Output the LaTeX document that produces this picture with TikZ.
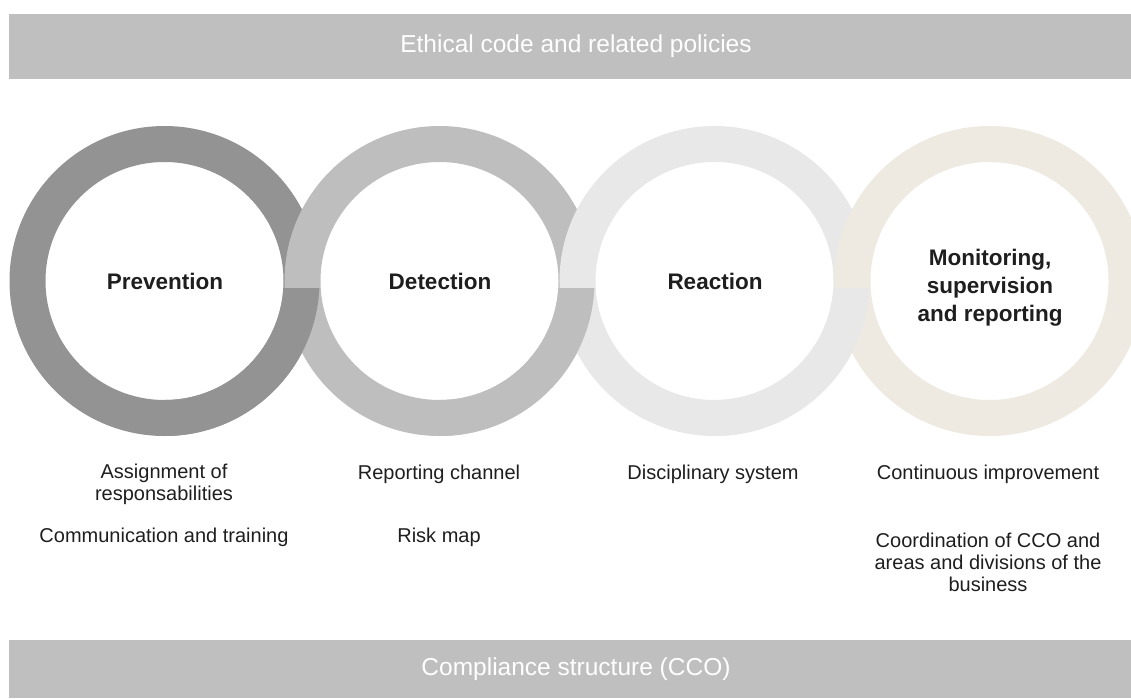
\documentclass[tikz,border=0pt]{standalone}
\usepackage{fontspec}
\setmainfont{Liberation Sans}
\definecolor{barc}{HTML}{BFBFBF}
\definecolor{ringA}{HTML}{939393}
\definecolor{ringB}{HTML}{BEBEBE}
\definecolor{ringC}{HTML}{E8E8E8}
\definecolor{ringD}{HTML}{EEEAE1}
\definecolor{txt}{HTML}{1E1E1E}
\tikzset{
  bartext/.style={text=white, inner sep=0pt, font=\fontsize{24.5}{28}\selectfont},
  head/.style={text=txt, inner sep=0pt, align=center, font=\bfseries\fontsize{22.5}{28}\selectfont},
  item/.style={text=txt, inner sep=0pt, align=center, font=\fontsize{20}{22}\selectfont},
}
\begin{document}
\begin{tikzpicture}[x=1pt,y=-1pt]
\useasboundingbox (0,0) rectangle (1131,698);
\clip (0,0) rectangle (1131,698);
% bars
\fill[barc] (9,14) rectangle (1131,79);
\node[bartext] (ethical) at (576,46.5) {Ethical code and related policies};
\fill[barc] (9,640) rectangle (1131,698);
\node[bartext] (cco) at (576,669) {Compliance structure (CCO)};
% rings
\foreach \cx/\col in {164.5/ringA, 439.5/ringB, 714.5/ringC, 989.5/ringD}{
  \fill[\col, even odd rule] (\cx,281) circle (155) (\cx,281) circle (119);
}
\foreach \cx/\col in {164.5/ringA, 439.5/ringB, 714.5/ringC}{
  \begin{scope}
    \clip (\cx,288) rectangle (\cx+160,440);
    \fill[\col, even odd rule] (\cx,281) circle (155) (\cx,281) circle (119);
  \end{scope}
}
% headings
\node[head] (prev) at (165,281) {Prevention};
\node[head] (det) at (440,281) {Detection};
\node[head] (react) at (715,281) {Reaction};
\node[head] (mon) at (990,288) {Monitoring,\\supervision\\and reporting};
% items
\node[item] (assign) at (164,484) {Assignment of\\responsabilities};
\node[item] (comm) at (164,537) {Communication and training};
\node[item] (repch) at (439,474) {Reporting channel};
\node[item] (risk) at (439,537) {Risk map};
\node[item] (disc) at (713,474) {Disciplinary system};
\node[item] (cont) at (988,474) {Continuous improvement};
\node[item] (coord) at (988,562) {Coordination of CCO and\\areas and divisions of the\\business};
\end{tikzpicture}
\end{document}
